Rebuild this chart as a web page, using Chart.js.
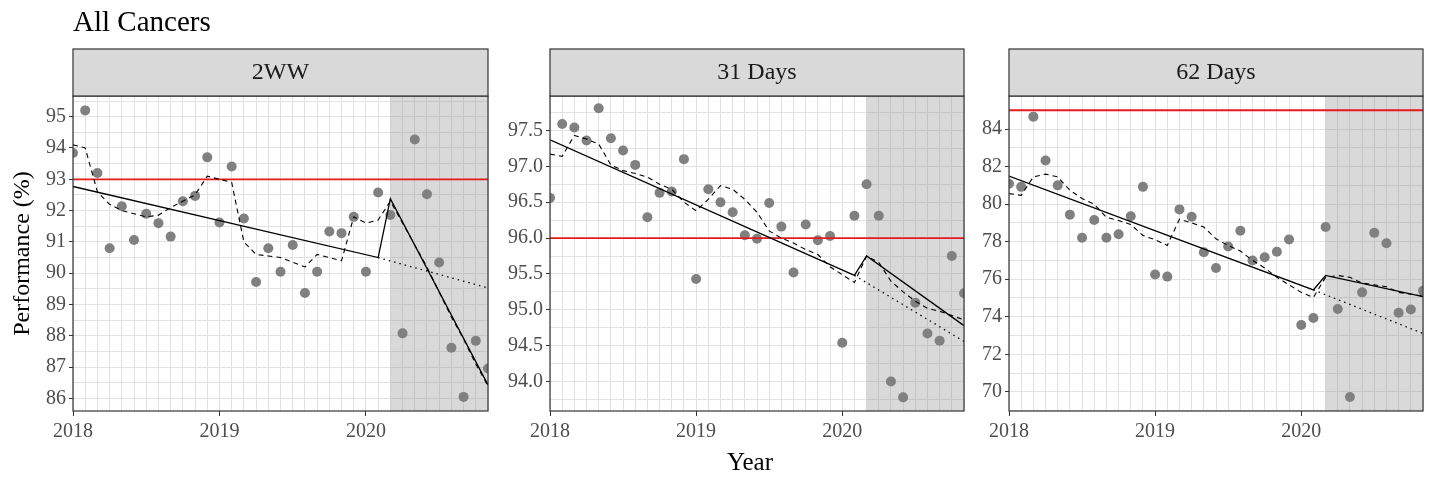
<!DOCTYPE html>
<html>
<head>
<meta charset="utf-8">
<script src="https://cdn.jsdelivr.net/npm/chart.js@4"></script>
<style>
  body { margin: 0; background: #fff; }
  #wrap { position: relative; width: 1430px; height: 477px; overflow: hidden; }
  canvas { position: absolute; top: 0; }
  .lbl { position: absolute; font-family: "Liberation Serif", serif; color: #000; white-space: nowrap; }
</style>
</head>
<body>
<div id="wrap">
  <canvas id="p1" width="496" height="477" style="left:0px"></canvas>
  <canvas id="p2" width="474" height="477" style="left:496px"></canvas>
  <canvas id="p3" width="460" height="477" style="left:970px"></canvas>
  <div class="lbl" style="left:73px; top:7px; font-size:29px; line-height:29px;">All Cancers</div>
  <div class="lbl" style="left:750px; top:449px; font-size:25px; line-height:25px; transform:translateX(-50%);">Year</div>
</div>
<script>
// months since Jan 2018
const months = [0,1,2,3,4,5,6,7,8,9,10,11,12,13,14,15,16,17,18,19,20,21,22,23,24,25,26,27,28,29,30,31,32,33,34];
const yearTicks = {0: '2018', 12: '2019', 24: '2020'};
const shadeStart = 26; // March 2020

// 2WW
const twwPoints = [93.84,95.2,93.2,90.8,92.14,91.06,91.9,91.6,91.17,92.3,92.47,93.7,91.62,93.41,91.75,89.72,90.8,90.05,90.9,89.37,90.05,91.33,91.28,91.8,90.05,92.58,91.86,88.08,94.27,92.52,90.34,87.62,86.05,87.84,86.96];
const twwDashed = [94.1,94.0,92.6,92.2,92.0,91.9,91.8,91.85,92.1,92.3,92.5,93.1,93.0,92.9,91.0,90.6,90.55,90.5,90.35,90.2,90.6,90.5,90.4,91.8,91.6,91.7,92.3,91.6,90.9,90.2,89.4,88.6,87.9,87.1,86.4];
const twwSolid = [92.77,90.5,92.38,86.43];
const twwDotted = [90.5,89.53];
const twwTarget = 93;

// 31 Days
const d31Points = [96.56,97.59,97.54,97.36,97.81,97.39,97.22,97.02,96.29,96.63,96.65,97.10,95.43,96.68,96.50,96.36,96.04,95.99,96.49,96.16,95.52,96.19,95.97,96.03,94.54,96.31,96.75,96.31,94.0,93.78,95.10,94.67,94.57,95.75,95.23];
const d31Dashed = [97.17,97.14,97.43,97.38,97.31,97.02,96.94,96.90,96.85,96.75,96.68,96.50,96.38,96.54,96.73,96.68,96.54,96.36,96.10,96.0,95.93,95.84,95.77,95.6,95.49,95.38,95.75,95.66,95.4,95.25,95.12,95.02,94.98,94.92,94.86];
const d31Solid = [97.37,95.48,95.75,94.78];
const d31Dotted = [95.48,94.56];
const d31Target = 96;

// 62 Days
const d62Points = [81.09,80.92,84.66,82.32,81.0,79.44,78.21,79.15,78.21,78.40,79.35,80.92,76.25,76.14,79.72,79.33,77.44,76.60,77.74,78.58,77.0,77.17,77.46,78.12,73.56,73.93,78.78,74.41,69.73,75.30,78.47,77.92,74.21,74.39,75.39];
const d62Dashed = [80.56,80.47,81.45,81.6,81.45,80.74,80.3,79.99,79.3,79.13,78.92,78.33,78.1,77.8,79.2,79.0,78.78,78.15,77.8,77.5,77.0,76.6,76.1,75.7,75.3,75.03,76.1,76.2,76.1,75.8,75.7,75.6,75.3,75.2,75.1];
const d62Solid = [81.49,75.43,76.2,75.07];
const d62Dotted = [75.43,73.11];
const d62Target = 85;

const solidMonths = [0,25,26,34];
const dottedMonths = [25,34];

const FONT = '"Liberation Serif", serif';

const decor = {
  id: 'decor',
  beforeDatasetsDraw(chart, args, opts) {
    const {ctx, chartArea: a, scales} = chart;
    const sx = scales.x.getPixelForValue(shadeStart);
    ctx.save();
    ctx.fillStyle = 'rgba(140,140,140,0.33)';
    ctx.fillRect(sx, a.top, a.right - sx, a.bottom - a.top);
    ctx.restore();
  },
  afterDraw(chart, args, opts) {
    const {ctx, chartArea: a} = chart;
    ctx.save();
    ctx.strokeStyle = '#333333';
    ctx.lineWidth = 1.2;
    ctx.strokeRect(a.left, a.top, a.right - a.left, a.bottom - a.top);
    // facet strip
    ctx.fillStyle = '#d9d9d9';
    ctx.fillRect(a.left, a.top - 47, a.right - a.left, 47);
    ctx.strokeRect(a.left, a.top - 47, a.right - a.left, 47);
    ctx.fillStyle = '#1a1a1a';
    ctx.font = '24px ' + FONT;
    ctx.textAlign = 'center';
    ctx.textBaseline = 'middle';
    ctx.fillText(opts.label, (a.left + a.right) / 2, a.top - 23);
    ctx.restore();
  }
};

function pairs(xs, ys) {
  return xs.map((x, i) => ({x: x, y: ys[i]}));
}

function makePanel(id, cfg) {
  const datasets = [
    {data: pairs(solidMonths, cfg.solid), borderColor: '#000', borderWidth: 1.3, pointRadius: 0, clip: 0},
    {data: pairs(months, cfg.dashed), borderColor: '#000', borderWidth: 1.1, borderDash: [5, 4], pointRadius: 0, clip: 0},
    {data: pairs(dottedMonths, cfg.dotted), borderColor: '#000', borderWidth: 1.3, borderDash: [1.5, 4], pointRadius: 0, clip: 0},
    {data: [{x: 0, y: cfg.target}, {x: 34, y: cfg.target}], borderColor: '#e41a1c', borderWidth: 1.8, pointRadius: 0, clip: 0},
    {data: pairs(months, cfg.points), showLine: false, pointRadius: 5, pointBackgroundColor: '#808080', pointBorderWidth: 0, clip: 0}
  ];
  new Chart(document.getElementById(id), {
    type: 'line',
    data: {datasets: datasets},
    plugins: [decor],
    options: {
      responsive: false,
      animation: false,
      events: [],
      layout: {padding: {top: 96, right: cfg.padRight, left: 0, bottom: 0}},
      plugins: {legend: {display: false}, tooltip: {enabled: false}, decor: {label: cfg.label}},
      scales: {
        x: {
          type: 'linear', min: 0, max: 34,
          afterFit(s) { s.height = 66; },
          border: {display: false},
          grid: {
            color: '#e2e2e2', lineWidth: 1, tickLength: 5,
            tickColor: (c) => (c.tick && yearTicks[c.tick.value] !== undefined) ? '#333333' : 'rgba(0,0,0,0)'
          },
          ticks: {
            stepSize: 1, autoSkip: false, maxRotation: 0, padding: 4,
            color: '#4d4d4d', font: {family: FONT, size: 20},
            callback: (v) => yearTicks[v] !== undefined ? yearTicks[v] : ''
          }
        },
        y: {
          min: cfg.yMin, max: cfg.yMax,
          afterFit(s) { s.width = cfg.yWidth; },
          border: {display: false},
          grid: {
            color: '#e2e2e2', lineWidth: 1, tickLength: 4,
            tickColor: (c) => (c.tick && cfg.isMajor(c.tick.value)) ? '#333333' : 'rgba(0,0,0,0)'
          },
          ticks: {
            stepSize: cfg.step, includeBounds: false, autoSkip: false, padding: 3,
            color: '#4d4d4d', font: {family: FONT, size: 20},
            callback: (v) => cfg.isMajor(v) ? cfg.fmt(v) : ''
          },
          title: {
            display: !!cfg.yTitle, text: cfg.yTitle || '', color: '#000',
            font: {family: FONT, size: 24}, padding: {top: 8, bottom: 0}
          }
        }
      }
    }
  });
}

const near = (v, m) => Math.abs(v / m - Math.round(v / m)) < 1e-6;

makePanel('p1', {
  label: '2WW', points: twwPoints, dashed: twwDashed, solid: twwSolid, dotted: twwDotted, target: twwTarget,
  yMin: 85.6, yMax: 95.66, step: 0.5, isMajor: (v) => near(v, 1), fmt: (v) => String(Math.round(v)),
  yWidth: 73, padRight: 8, yTitle: 'Performance (%)'
});
makePanel('p2', {
  label: '31 Days', points: d31Points, dashed: d31Dashed, solid: d31Solid, dotted: d31Dotted, target: d31Target,
  yMin: 93.59, yMax: 97.98, step: 0.25, isMajor: (v) => near(v, 0.5), fmt: (v) => v.toFixed(1),
  yWidth: 54, padRight: 6
});
makePanel('p3', {
  label: '62 Days', points: d62Points, dashed: d62Dashed, solid: d62Solid, dotted: d62Dotted, target: d62Target,
  yMin: 68.98, yMax: 85.76, step: 1, isMajor: (v) => near(v, 2), fmt: (v) => String(Math.round(v)),
  yWidth: 39, padRight: 7
});
</script>
</body>
</html>
